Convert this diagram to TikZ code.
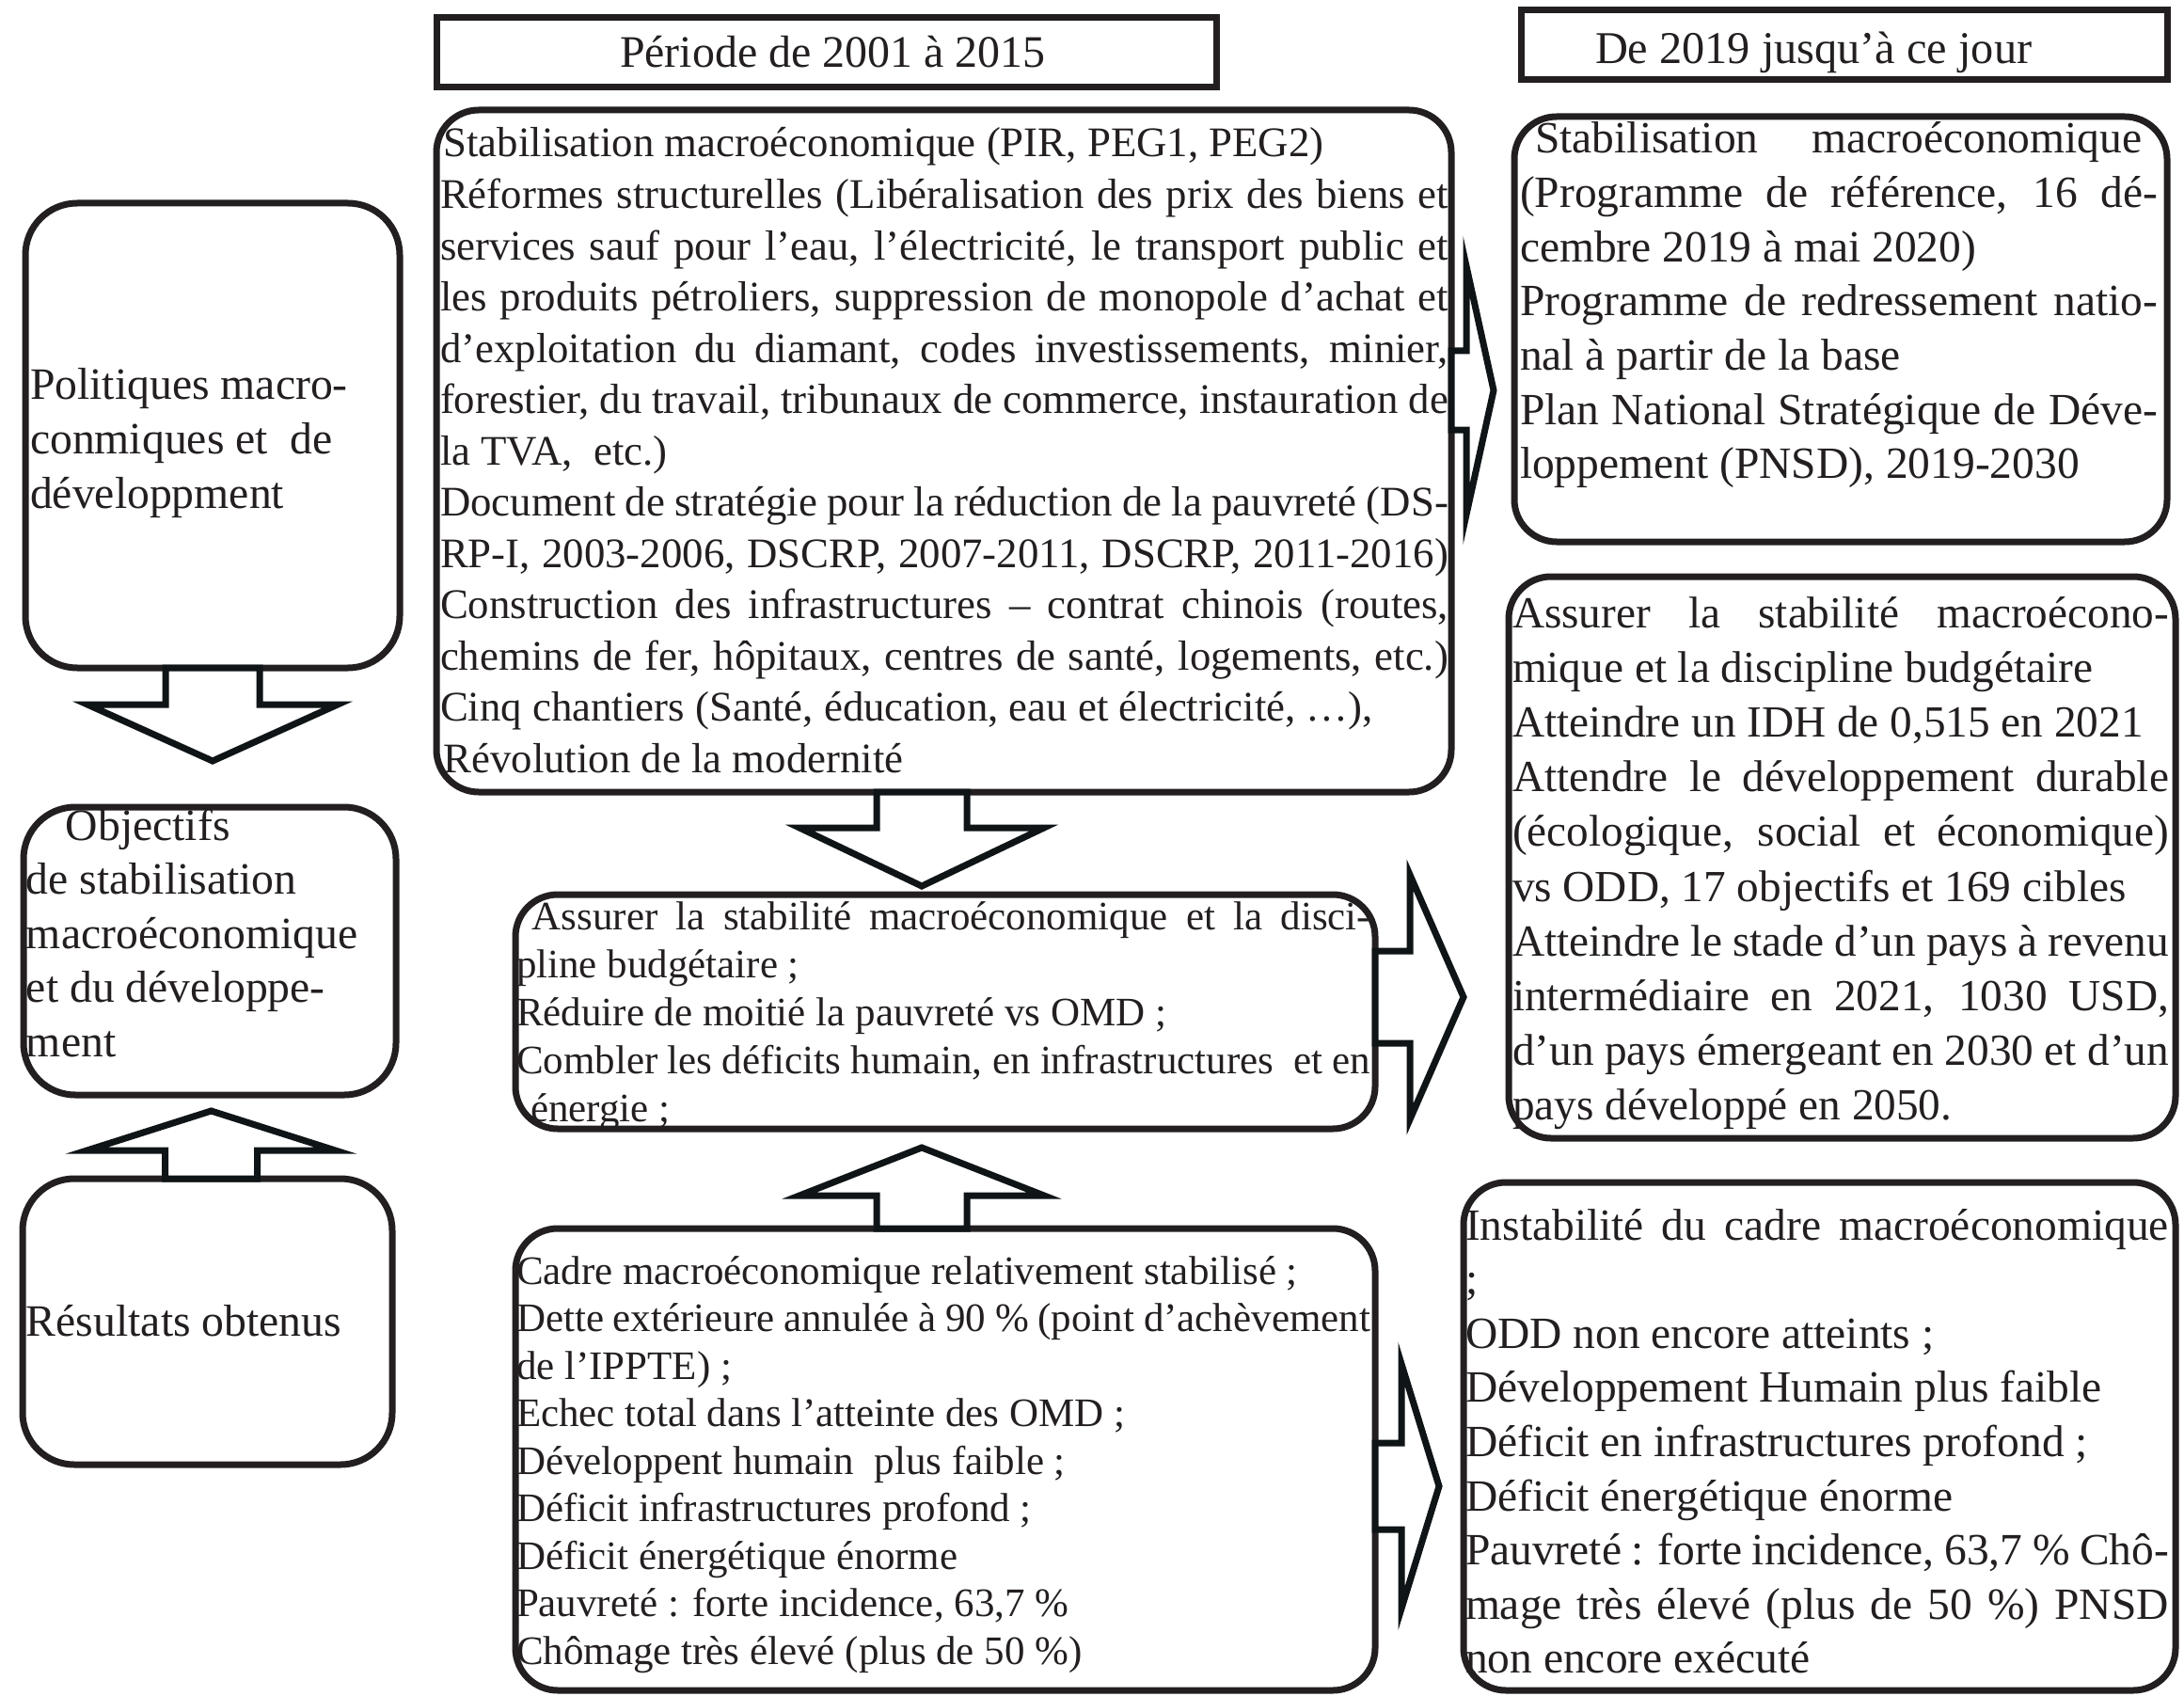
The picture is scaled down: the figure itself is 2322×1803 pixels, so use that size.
\documentclass[tikz,border=0pt]{standalone}
\usepackage{fontspec}
\setmainfont{Liberation Serif}
\usetikzlibrary{fit,calc}
\definecolor{ink}{HTML}{231F20}
\definecolor{arr}{HTML}{0F1417}
\newdimen\lw
\newcommand\JL[1]{\hbox to\lw{#1}}
\newcommand\RL[1]{\hbox to\lw{#1\hfil}}
% right block arrow: start coord, shaft half, shaft length, head half, head length
\newcommand\RArrow[5]{\draw[barrow] ($(#1)+(0,-#2)$) -- ++(#3,0) -- ++(0,{#2-#4}) -- ++(#5,#4) -- ++({-(#5)},#4) -- ++(0,{#2-#4}) -- ++({-(#3)},0) -- cycle;}
% vertical block arrow (positive = downwards)
\newcommand\VArrow[5]{\draw[barrow] ($(#1)+(-#2,0)$) -- ++(0,#3) -- ++({#2-#4},0) -- ++(#4,#5) -- ++(#4,{-(#5)}) -- ++({#2-#4},0) -- ++(0,{-(#3)}) -- cycle;}
\tikzset{
  box/.style={draw=ink, line width=0.7mm, rounded corners=4.5mm, inner sep=0pt, outer sep=0pt},
  lbox/.style={box, rounded corners=5.5mm},
  hdrbox/.style={draw=ink, line width=0.7mm, inner sep=0pt, outer sep=0pt},
  barrow/.style={draw=arr, fill=white, line width=0.7mm, line join=miter, miter limit=10},
  txt/.style={anchor=base west, inner sep=0pt, outer sep=0pt, text=ink},
  fM1/.style={font=\fontsize{12.75pt}{15.51pt}\selectfont},
  fM2/.style={font=\fontsize{12.23pt}{14.58pt}\selectfont},
  fM3/.style={font=\fontsize{12.23pt}{14.37pt}\selectfont},
  fR/.style={font=\fontsize{13.51pt}{16.39pt}\selectfont},
  fR2/.style={font=\fontsize{13.45pt}{16.56pt}\selectfont},
  fL/.style={font=\fontsize{13.57pt}{16.40pt}\selectfont},
}
\begin{document}
\begin{tikzpicture}[x=0.1mm,y=-0.1mm]
\fill[white] (0,0) rectangle (2322,1803);
\useasboundingbox (0,0) rectangle (2322,1803);

% header boxes
\node[hdrbox, fit={(464,19) (1293,93)}] (h1) {};
\node[hdrbox, fit={(1617,11) (2304,85)}] (h2) {};
\node[txt, font=\fontsize{13.63pt}{16pt}\selectfont] (h1t) at (659,72) {Période de 2001 à 2015};
\node[txt, font=\fontsize{13.75pt}{16pt}\selectfont] (h2t) at (1696,68) {De 2019 jusqu’à ce jour};

% left column boxes
\node[lbox, fit={(27,216) (425,710)}] (l1) {};
\node[lbox, fit={(25,858) (421,1164)}] (l2) {};
\node[lbox, fit={(24,1253) (417,1557)}] (l3) {};

% middle column boxes
\node[box, fit={(464,117) (1543,842)}] (m1) {};
\node[box, fit={(548,951) (1462,1200)}] (m2) {};
\node[box, fit={(548,1306) (1462,1797)}] (m3) {};

% right column boxes
\node[box, fit={(1610,124) (2304,576)}] (r1) {};
\node[box, fit={(1604,613) (2313,1210)}] (r2) {};
\node[box, fit={(1556,1257) (2313,1797)}] (r3) {};

% arrows
\coordinate (a1) at ([yshift=6.45mm]m1.east);
\coordinate (a2) at ([yshift=1.55mm]m2.east);
\coordinate (a3) at ([yshift=-2.85mm]m3.east);
\coordinate (a4) at (l1.south);
\coordinate (a5) at ([xshift=0.4mm]l3.north);
\coordinate (a6) at ([xshift=-2.35mm]m1.south);
\coordinate (a7) at ([xshift=-2.5mm]m3.north);
\RArrow{a1}{42}{16}{132}{29}
\RArrow{a2}{49}{37}{130}{57}
\RArrow{a3}{46}{28}{130}{40}
\VArrow{a4}{50}{39}{133}{60}
\VArrow{a5}{49}{-30}{132}{-42}
\VArrow{a6}{48}{38}{130}{62}
\VArrow{a7}{48}{-35}{130}{-51}

% left texts
\node[txt, fL] (l1t) at (32,425) {\vtop{\lw=130pt
\RL{Politiques macro-}
\RL{conmiques et~ de}
\RL{développment}}};
\node[txt, fL] (l2t) at (28,893) {\vtop{\lw=130pt
\RL{\kern11.9pt Objectifs}
\RL{de stabilisation}
\RL{macroéconomique}
\RL{et du développe-}
\RL{ment}}};
\node[txt, fL] (l3t) at (28,1420) {Résultats obtenus};

% middle texts
\node[txt, fM1] (m1t) at (468,167) {\vtop{\lw=305pt
\RL{\kern1pt Stabilisation macroéconomique (PIR, PEG1, PEG2)}
\JL{Réformes structurelles (Libéralisation des prix des biens et}
\JL{services sauf pour l’eau, l’électricité, le transport public et}
\JL{les produits pétroliers, suppression de monopole d’achat et}
\JL{d’exploitation du diamant, codes investissements, minier,}
\JL{forestier, du travail, tribunaux de commerce, instauration de}
\RL{la TVA,~ etc.)}
\JL{Document de stratégie pour la réduction de la pauvreté (DS-}
\JL{RP-I, 2003-2006, DSCRP, 2007-2011, DSCRP, 2011-2016)}
\JL{Construction des infrastructures – contrat chinois (routes,}
\JL{chemins de fer, hôpitaux, centres de santé, logements, etc.)}
\RL{Cinq chantiers (Santé, éducation, eau et électricité, …),}
\RL{\kern1pt Révolution de la modernité}}};

\node[txt, fM2] (m2t) at (549,988) {\vtop{\lw=258.35pt
\JL{\kern4.8pt Assurer la stabilité macroéconomique et la disci-}
\RL{pline budgétaire ;}
\RL{Réduire de moitié la pauvreté vs OMD ;}
\JL{Combler les déficits humain, en infrastructures~ et en}
\RL{\kern4.3pt énergie ;}}};

\node[txt, fM3] (m3t) at (549,1365) {\vtop{\lw=258.35pt
\RL{Cadre macroéconomique relativement stabilisé ;}
\JL{Dette extérieure annulée à 90 \% (point d’achèvement}
\RL{de l’IPPTE) ;}
\RL{Echec total dans l’atteinte des OMD ;}
\RL{Développent humain~ plus faible ;}
\RL{Déficit infrastructures profond ;}
\RL{Déficit énergétique énorme}
\RL{Pauvreté : forte incidence, 63,7 \%}
\RL{Chômage très élevé (plus de 50 \%)}}};

% right texts
\node[txt, fR] (r1t) at (1616,163) {\vtop{\lw=192.9pt
\JL{\kern4.6pt Stabilisation\hfill macroéconomique\kern4.8pt}
\JL{(Programme de référence, 16 dé-}
\RL{cembre 2019 à mai 2020)}
\JL{Programme de redressement natio-}
\RL{nal à partir de la base}
\JL{Plan National Stratégique de Déve-}
\RL{loppement (PNSD), 2019-2030}}};

\node[txt, fR2] (r2t) at (1608,667) {\vtop{\lw=198.6pt
\JL{Assurer la stabilité macroécono-}
\RL{mique et la discipline budgétaire}
\RL{Atteindre un IDH de 0,515 en 2021}
\JL{Attendre le développement durable}
\JL{(écologique, social et économique)}
\RL{vs ODD, 17 objectifs et 169 cibles}
\JL{Atteindre le stade d’un pays à revenu}
\JL{intermédiaire en 2021, 1030 USD,}
\JL{d’un pays émergeant en 2030 et d’un}
\RL{pays développé en 2050.}}};

\node[txt, fR] (r3t) at (1558,1318) {\vtop{\lw=212.8pt
\JL{Instabilité du cadre macroéconomique}
\RL{;}
\RL{ODD non encore atteints ;}
\RL{Développement Humain plus faible}
\RL{Déficit en infrastructures profond ;}
\RL{Déficit énergétique énorme}
\JL{Pauvreté : forte incidence, 63,7 \% Chô-}
\JL{mage très élevé (plus de 50 \%) PNSD}
\RL{non encore exécuté}}};
\end{tikzpicture}
\end{document}
